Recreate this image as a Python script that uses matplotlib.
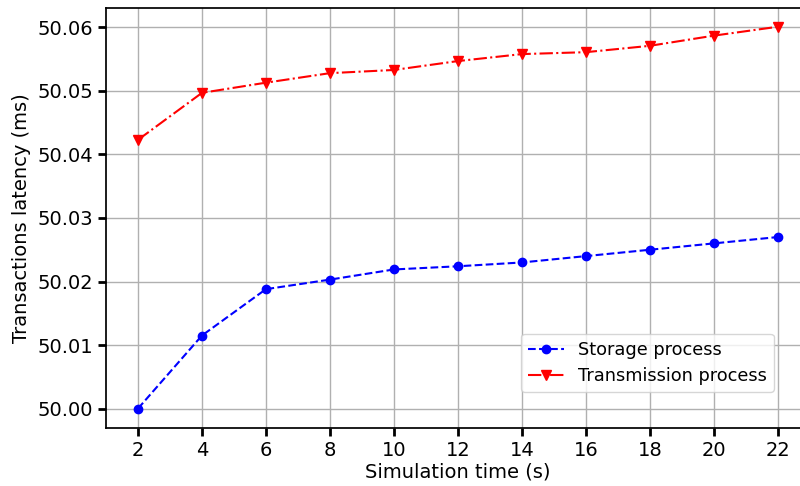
import matplotlib
matplotlib.use("Agg")
import matplotlib.pyplot as plt

sim_time = [2, 4, 6, 8, 10, 12, 14, 16, 18, 20, 22]
storage = [50.0000, 50.0115, 50.0188, 50.0203, 50.0219, 50.0224, 50.0230, 50.0240, 50.0250, 50.0260, 50.0270]
transmission = [50.0423, 50.0497, 50.0513, 50.0528, 50.0533, 50.0547, 50.0558, 50.0561, 50.0571, 50.0587, 50.0601]
yticks = [50.00, 50.01, 50.02, 50.03, 50.04, 50.05, 50.06]
xticks = sim_time

fig = plt.figure(figsize=(8, 4.86), dpi=100)
ax = fig.add_axes([0.1325, 0.12, 0.8796, 0.8642])

ax.plot(sim_time, storage, linestyle='--', marker='o', color='blue',
        markersize=6, linewidth=1.5, label='Storage process')
ax.plot(sim_time, transmission, linestyle='-.', marker='v', color='red',
        markersize=7, linewidth=1.5, label='Transmission process')

ax.set_xticks(xticks)
ax.set_yticks(yticks)
ax.set_yticklabels([f"{v:.2f}" for v in yticks])
ax.tick_params(axis='both', labelsize=14, width=2, length=6)
ax.grid(True, color='#b0b0b0', linewidth=1)
ax.set_axisbelow(True)
for s in ax.spines.values():
    s.set_linewidth(1.25)

ax.set_xlabel('Simulation time (s)', fontsize=14, labelpad=2)
ax.set_ylabel('Transactions latency (ms)', fontsize=14, labelpad=4)

ax.legend(loc='lower right', bbox_to_anchor=(0.9493, 0.085), borderaxespad=0,
          fontsize=12.8, labelspacing=0.45, borderpad=0.4)

fig.savefig('out.png', dpi=100)
